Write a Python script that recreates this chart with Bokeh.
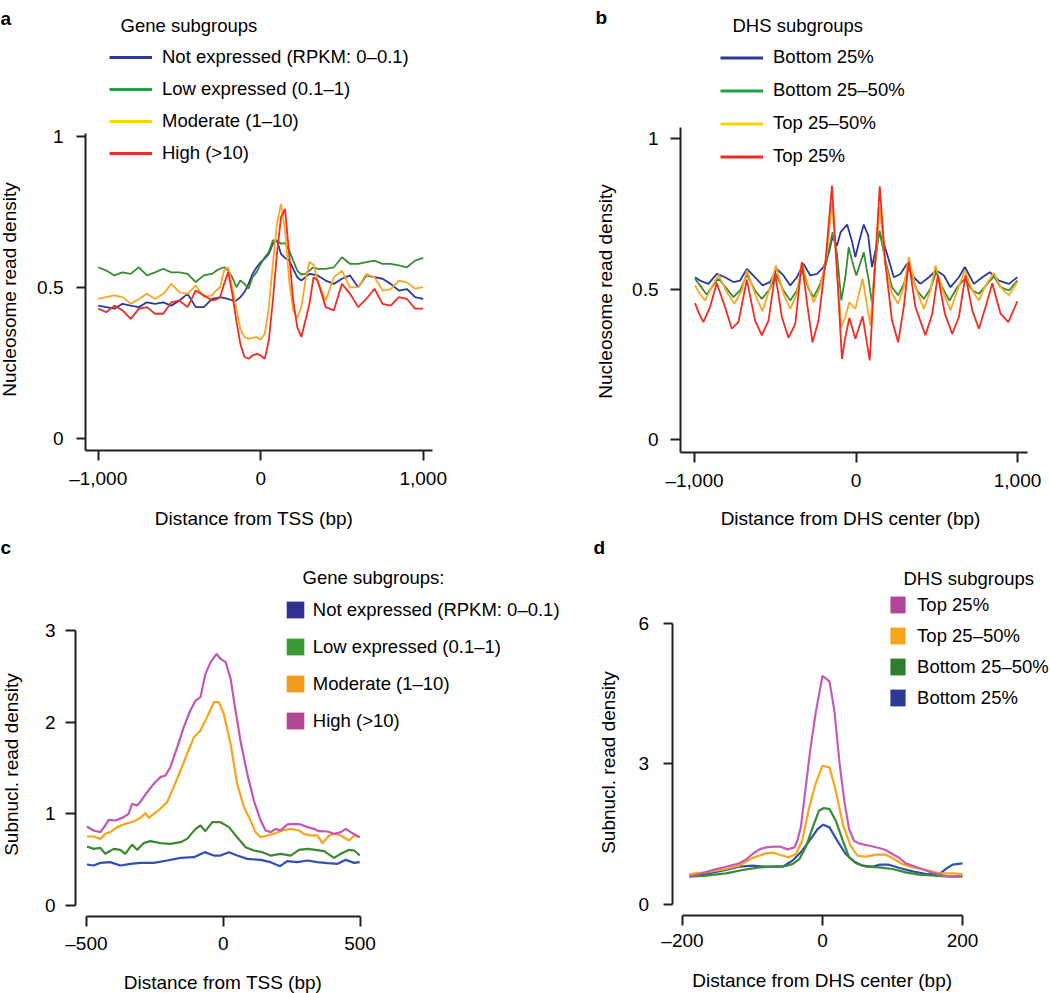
import math
from bokeh.plotting import figure
from bokeh.models import Range1d, FixedTicker, Legend, LegendItem, Label
from bokeh.layouts import row, column
from bokeh.embed import file_html
from bokeh.resources import INLINE

# ---------------- data ----------------
# Panel a: nucleosome read density around TSS by expression subgroup
a_x = [-1000, -950, -900, -850, -800, -750, -700, -650, -600, -550, -500, -450, -400, -350, -300,
       -275, -250, -225, -200, -175, -150, -125, -100, -75, -50, -25, 0, 25, 50, 75, 100, 125, 150,
       175, 200, 225, 250, 275, 300, 325, 350,
       400, 450, 500, 550, 600, 650, 700, 750, 800, 850, 900, 950, 1000]
a_not = [0.44, 0.435, 0.43, 0.446, 0.44, 0.435, 0.451, 0.446, 0.451, 0.44, 0.457, 0.479, 0.435, 0.435, 0.462,
         0.465, 0.468, 0.465, 0.462, 0.457, 0.457, 0.468, 0.485, 0.512, 0.545, 0.567, 0.584, 0.596, 0.611,
         0.645, 0.656, 0.611, 0.598, 0.589, 0.562, 0.534, 0.523, 0.534, 0.545, 0.543, 0.54,
         0.523, 0.512, 0.529, 0.54, 0.501, 0.54, 0.534, 0.529, 0.512, 0.49, 0.495, 0.468, 0.462]
a_low = [0.567, 0.556, 0.54, 0.55, 0.545, 0.567, 0.54, 0.55, 0.562, 0.55, 0.55, 0.545, 0.518, 0.54, 0.545,
         0.555, 0.562, 0.567, 0.556, 0.534, 0.501, 0.523, 0.512, 0.496, 0.534, 0.551, 0.578, 0.6, 0.617,
         0.656, 0.656, 0.645, 0.647, 0.623, 0.589, 0.556, 0.543, 0.545, 0.556, 0.567, 0.562,
         0.562, 0.567, 0.6, 0.578, 0.578, 0.584, 0.589, 0.578, 0.578, 0.573, 0.567, 0.589, 0.598]
a_mod = [0.462, 0.468, 0.474, 0.468, 0.446, 0.462, 0.479, 0.462, 0.479, 0.512, 0.485, 0.479, 0.507, 0.468, 0.474,
         0.49, 0.501, 0.556, 0.567, 0.501, 0.43, 0.363, 0.336, 0.33, 0.333, 0.336, 0.327, 0.347, 0.435,
         0.578, 0.711, 0.777, 0.689, 0.523, 0.424, 0.4, 0.435, 0.523, 0.585, 0.575, 0.523,
         0.457, 0.534, 0.556, 0.5, 0.501, 0.545, 0.534, 0.49, 0.495, 0.523, 0.517, 0.496, 0.501]
a_high = [0.43, 0.418, 0.44, 0.424, 0.396, 0.43, 0.435, 0.413, 0.413, 0.451, 0.457, 0.435, 0.49, 0.474, 0.457,
          0.46, 0.468, 0.512, 0.551, 0.479, 0.39, 0.313, 0.27, 0.264, 0.275, 0.28, 0.275, 0.264, 0.325,
          0.457, 0.611, 0.733, 0.76, 0.611, 0.457, 0.369, 0.336, 0.39, 0.446, 0.534, 0.523,
          0.435, 0.424, 0.512, 0.479, 0.435, 0.462, 0.496, 0.446, 0.44, 0.468, 0.462, 0.43, 0.43]

# Panel b: nucleosome read density around DHS centers by DHS subgroup
b_bot_x = [-997, -966, -914, -862, -811, -759, -718, -676, -625, -579, -532, -490, -449, -407, -366, -325, -283,
           -242, -201, -170, -145, -118, -95, -55, -25, -4, 20, 48, 75, 99, 125, 145, 170, 192, 234, 275, 316,
           358, 399, 451, 496, 544, 585, 637, 674, 730, 782, 829, 885, 947, 999]
b_bot_y = [0.54, 0.529, 0.518, 0.551, 0.54, 0.524, 0.529, 0.568, 0.54, 0.513, 0.524, 0.568, 0.546, 0.513, 0.54,
           0.585, 0.546, 0.551, 0.574, 0.618, 0.675, 0.645, 0.69, 0.715, 0.66, 0.607, 0.66, 0.715, 0.68, 0.574,
           0.64, 0.69, 0.655, 0.618, 0.54, 0.551, 0.585, 0.54, 0.518, 0.54, 0.563, 0.546, 0.507, 0.54, 0.574,
           0.518, 0.54, 0.557, 0.529, 0.518, 0.54]
b_bm_x = [-997, -966, -925, -883, -852, -800, -759, -718, -676, -625, -583, -532, -496, -449, -407, -366, -335,
          -294, -263, -221, -180, -145, -118, -91, -66, -45, -25, 2, 48, 79, 99, 120, 145, 182, 223, 261, 296,
          327, 378, 420, 461, 496, 544, 579, 627, 674, 720, 761, 813, 854, 895, 947, 999]
b_bm_y = [0.535, 0.513, 0.483, 0.513, 0.535, 0.502, 0.474, 0.496, 0.549, 0.496, 0.468, 0.502, 0.551, 0.496,
          0.463, 0.496, 0.565, 0.502, 0.474, 0.518, 0.596, 0.69, 0.618, 0.463, 0.54, 0.64, 0.596, 0.546, 0.623,
          0.529, 0.452, 0.596, 0.695, 0.596, 0.507, 0.48, 0.518, 0.574, 0.496, 0.468, 0.502, 0.557, 0.496, 0.463,
          0.507, 0.535, 0.496, 0.485, 0.518, 0.543, 0.507, 0.496, 0.529]
b_tm_x = [-997, -966, -935, -893, -852, -800, -753, -707, -676, -625, -579, -532, -496, -449, -407, -366, -335,
          -294, -263, -221, -180, -149, -118, -91, -66, -41, -4, 41, 89, 116, 147, 182, 223, 261, 296, 327, 368,
          420, 461, 492, 544, 585, 627, 674, 720, 761, 802, 854, 895, 947, 999]
b_tm_y = [0.513, 0.485, 0.463, 0.507, 0.549, 0.491, 0.452, 0.496, 0.563, 0.485, 0.427, 0.507, 0.579, 0.485,
          0.435, 0.485, 0.59, 0.507, 0.457, 0.507, 0.618, 0.79, 0.563, 0.374, 0.408, 0.457, 0.435, 0.535, 0.38,
          0.563, 0.773, 0.585, 0.485, 0.452, 0.507, 0.607, 0.507, 0.435, 0.496, 0.579, 0.485, 0.43, 0.496, 0.563,
          0.496, 0.463, 0.513, 0.554, 0.507, 0.48, 0.524]
b_top_x = [-997, -976, -945, -904, -862, -811, -769, -728, -676, -625, -583, -542, -500, -459, -418, -376, -335,
           -304, -269, -232, -190, -149, -118, -87, -66, -41, -4, 41, 85, 116, 147, 182, 223, 261, 296, 327, 368,
           430, 472, 507, 550, 596, 637, 678, 720, 761, 802, 844, 895, 943, 999]
b_top_y = [0.454, 0.424, 0.391, 0.441, 0.52, 0.441, 0.369, 0.391, 0.532, 0.396, 0.347, 0.396, 0.551, 0.408,
           0.339, 0.385, 0.59, 0.457, 0.324, 0.396, 0.585, 0.845, 0.563, 0.269, 0.341, 0.405, 0.336, 0.41, 0.264,
           0.563, 0.842, 0.585, 0.396, 0.324, 0.441, 0.59, 0.441, 0.347, 0.419, 0.546, 0.419, 0.352, 0.408, 0.546,
           0.43, 0.369, 0.441, 0.52, 0.419, 0.391, 0.46]

# Panel c: subnucleosomal read density around TSS
c_not_x = [-498, -474, -449, -413, -376, -339, -303, -254, -205, -156, -107, -68, -34, -10, 21, 51, 88, 137, 173,
           208, 234, 271, 308, 344, 381, 418, 448, 479, 499]
c_not_y = [0.447, 0.436, 0.465, 0.473, 0.436, 0.455, 0.465, 0.465, 0.491, 0.52, 0.527, 0.582, 0.545, 0.545, 0.582,
           0.545, 0.509, 0.498, 0.473, 0.429, 0.484, 0.473, 0.491, 0.473, 0.462, 0.455, 0.498, 0.465, 0.473]
c_low_x = [-498, -474, -449, -431, -400, -376, -358, -333, -315, -291, -266, -230, -193, -156, -132, -101, -83, -65,
           -40, -10, 21, 51, 82, 112, 143, 173, 210, 247, 277, 308, 338, 369, 405, 430, 460, 479, 499]
c_low_y = [0.644, 0.618, 0.629, 0.564, 0.618, 0.607, 0.564, 0.665, 0.607, 0.68, 0.702, 0.68, 0.673, 0.691, 0.727,
           0.836, 0.873, 0.811, 0.909, 0.909, 0.855, 0.745, 0.636, 0.6, 0.582, 0.545, 0.564, 0.545, 0.607, 0.618,
           0.607, 0.593, 0.52, 0.564, 0.607, 0.6, 0.545]
c_mod_x = [-498, -474, -449, -431, -413, -388, -358, -327, -303, -284, -272, -254, -230, -205, -181, -156, -132,
           -107, -83, -59, -34, -16, 2, 27, 51, 76, 100, 118, 137, 161, 186, 216, 247, 277, 295, 320, 344, 363,
           387, 405, 430, 460, 479, 499]
c_mod_y = [0.753, 0.753, 0.727, 0.782, 0.8, 0.855, 0.891, 0.916, 0.956, 1.007, 0.956, 1.0, 1.055, 1.127, 1.291,
           1.473, 1.655, 1.836, 1.909, 2.055, 2.218, 2.218, 2.091, 1.764, 1.327, 1.073, 0.927, 0.8, 0.745, 0.764,
           0.782, 0.818, 0.836, 0.818, 0.782, 0.764, 0.764, 0.68, 0.764, 0.782, 0.764, 0.709, 0.764, 0.745]
c_high_x = [-498, -474, -449, -431, -419, -394, -364, -346, -333, -315, -303, -278, -254, -230, -211, -193, -168,
            -144, -120, -101, -83, -65, -46, -24, -10, 9, 27, 45, 63, 88, 112, 137, 155, 173, 192, 210, 234, 259,
            283, 308, 332, 350, 381, 405, 430, 448, 466, 499]
c_high_y = [0.862, 0.818, 0.8, 0.873, 0.935, 0.927, 0.964, 1.0, 1.11, 1.09, 1.13, 1.236, 1.327, 1.4, 1.418, 1.51,
            1.727, 1.945, 2.127, 2.236, 2.273, 2.527, 2.655, 2.745, 2.69, 2.655, 2.473, 2.127, 1.8, 1.436, 1.145,
            0.927, 0.818, 0.8, 0.836, 0.818, 0.884, 0.891, 0.884, 0.855, 0.836, 0.811, 0.807, 0.782, 0.8, 0.836,
            0.8, 0.745]

# Panel d: subnucleosomal read density around DHS centers
d_top_x = [-190, -176, -157, -138, -119, -110, -100, -90, -81, -69, -60, -50, -40, -36, -31, -24, -17, -10, 0, 10,
           17, 24, 31, 38, 45, 52, 67, 81, 90, 100, 110, 119, 138, 157, 176, 200]
d_top_y = [0.584, 0.641, 0.727, 0.798, 0.87, 0.941, 1.069, 1.169, 1.212, 1.226, 1.226, 1.169, 1.212, 1.354, 1.639,
           2.495, 3.35, 4.063, 4.882, 4.761, 4.134, 3.065, 2.21, 1.604, 1.354, 1.297, 1.247, 1.197, 1.155, 1.069,
           0.984, 0.87, 0.77, 0.67, 0.599, 0.599]
d_tm_x = [-190, -167, -138, -119, -100, -81, -71, -60, -48, -38, -29, -19, -10, 0, 10, 19, 29, 40, 50, 62, 76, 90,
          100, 114, 129, 148, 167, 186, 200]
d_tm_y = [0.641, 0.677, 0.748, 0.82, 0.984, 1.083, 1.098, 1.048, 0.998, 1.069, 1.354, 2.067, 2.566, 2.958, 2.922,
          2.423, 1.711, 1.247, 1.033, 1.012, 1.055, 1.055, 0.984, 0.855, 0.784, 0.727, 0.656, 0.656, 0.641]
d_bm_x = [-190, -167, -138, -114, -90, -71, -52, -43, -33, -24, -14, -5, 2, 10, 19, 29, 38, 48, 62, 81, 100, 119,
          138, 162, 181, 200]
d_bm_y = [0.584, 0.606, 0.656, 0.727, 0.784, 0.798, 0.813, 0.855, 0.962, 1.212, 1.639, 1.996, 2.053, 2.031, 1.782,
          1.354, 0.998, 0.87, 0.798, 0.784, 0.748, 0.677, 0.627, 0.606, 0.584, 0.584]
d_bot_x = [-190, -167, -138, -119, -100, -81, -57, -43, -29, -17, -7, 1, 10, 21, 33, 45, 57, 71, 81, 95, 110, 129,
           148, 167, 176, 186, 200]
d_bot_y = [0.606, 0.641, 0.727, 0.798, 0.82, 0.798, 0.798, 0.927, 1.14, 1.39, 1.604, 1.696, 1.639, 1.354, 1.069,
           0.912, 0.82, 0.798, 0.841, 0.841, 0.77, 0.698, 0.641, 0.641, 0.748, 0.841, 0.87]

gene_labels = ["Not expressed (RPKM: 0\u20130.1)", "Low expressed (0.1\u20131)", "Moderate (1\u201310)", "High (>10)"]
dhs_labels_b = ["Bottom 25%", "Bottom 25\u201350%", "Top 25\u201350%", "Top 25%"]
dhs_labels_d = ["Top 25%", "Top 25\u201350%", "Bottom 25\u201350%", "Bottom 25%"]

# ---------------- styling / layout helpers ----------------
FONT = "Liberation Sans"
AX = "#231f20"
TICK_FS = "19px"
LAB_FS = "19px"
LEG_FS = "18.5px"
LET_FS = "19px"
NAN = float("nan")


class Panel:
    """A figure whose frame fills its whole canvas; xcal/ycal map two data values to canvas pixels."""

    def __init__(self, box, xcal, ycal):
        self.l, self.t, self.r, self.b = box
        (xv0, xp0), (xv1, xp1) = xcal
        (yv0, yp0), (yv1, yp1) = ycal
        self.kx = (xv1 - xv0) / (xp1 - xp0)
        self.x0 = (xv0, xp0)
        self.ky = (yv1 - yv0) / (yp1 - yp0)
        self.y0 = (yv0, yp0)
        self.p = figure(width=self.r - self.l, height=self.b - self.t,
                        x_range=Range1d(self.xv(self.l), self.xv(self.r)),
                        y_range=Range1d(self.yv(self.b), self.yv(self.t)),
                        min_border=0, min_border_left=0, min_border_right=0,
                        min_border_top=0, min_border_bottom=0,
                        output_backend="svg", toolbar_location=None)
        p = self.p
        p.xgrid.visible = False
        p.ygrid.visible = False
        p.outline_line_color = None
        p.background_fill_color = "white"
        p.border_fill_color = "white"

    def xv(self, px):
        v0, p0 = self.x0
        return v0 + (px - p0) * self.kx

    def yv(self, py):
        v0, p0 = self.y0
        return v0 + (py - p0) * self.ky

    def axis(self, ax, ticks, labels, loc, bounds, tick_out, standoff):
        ax.ticker = FixedTicker(ticks=ticks)
        ax.major_label_overrides = dict(zip(ticks, labels))
        ax.fixed_location = loc
        ax.bounds = bounds
        ax.axis_line_color = AX
        ax.axis_line_width = 2
        ax.major_tick_line_color = AX
        ax.major_tick_line_width = 2
        ax.minor_tick_line_color = None
        ax.major_tick_in = 0
        ax.major_tick_out = tick_out
        ax.major_label_standoff = standoff
        ax.major_label_text_font = FONT
        ax.major_label_text_font_size = TICK_FS
        ax.major_label_text_color = "black"

    def text(self, px, py, text, size, bold=False, align="left", baseline="middle", angle=0.0):
        self.p.add_layout(Label(x=px - self.l, y=self.b - py, x_units="screen", y_units="screen",
                                text=text, text_font=FONT, text_font_size=size,
                                text_font_style="bold" if bold else "normal",
                                text_align=align, text_baseline=baseline, angle=angle,
                                text_color="black"))

    def legend(self, labels, colors, kind, left, bottom, gw, gh, spacing, standoff):
        items = []
        for lab, col in zip(labels, colors):
            # legend-only renderers (one NaN point, so nothing is drawn in the plot area)
            if kind == "line":
                r = self.p.line(x=[NAN], y=[NAN], line_color=col, line_width=3)
            else:
                r = self.p.quad(left=[NAN], right=[NAN], top=[NAN], bottom=[NAN],
                                fill_color=col, line_color=None)
            items.append(LegendItem(label=lab, renderers=[r]))
        leg = Legend(items=items, location=(left - self.l, self.b - bottom), orientation="vertical",
                     glyph_width=gw, glyph_height=gh, label_height=gh, label_width=10,
                     spacing=spacing, label_standoff=standoff, padding=0, margin=0,
                     border_line_color=None, background_fill_alpha=0,
                     label_text_font=FONT, label_text_font_size=LEG_FS, label_text_color="black")
        self.p.add_layout(leg)


ROT = math.pi / 2

# ---------------- panel a ----------------
A = Panel((0, 0, 592, 530), ((-1000, 97.7), (1000, 422.7)), ((0, 438), (1, 136)))
A.axis(A.p.xaxis[0], [-1000, 0, 1000], ["\u20131,000", "0", "1,000"], A.yv(450),
       (A.xv(85), A.xv(432)), 10, 7)
A.axis(A.p.yaxis[0], [0, 0.5, 1], ["0", "0.5", "1"], A.xv(85), (A.yv(450), A.yv(133)), 9, 13)
for ys, col in zip([a_not, a_low, a_mod, a_high], ["#2b3a9c", "#3b8a34", "#fba624", "#ee2e24"]):
    A.p.line(a_x, ys, line_color=col, line_width=1.8)
A.legend(gene_labels, ["#2b3a8f", "#1fa244", "#ffd200", "#ee2b24"], "line", 109, 166, 43, 26, 6, 10)
A.text(120, 25, "Gene subgroups", LEG_FS)
A.text(253.5, 517.5, "Distance from TSS (bp)", LAB_FS, align="center")
A.text(9, 289, "Nucleosome read density", LAB_FS, align="center", angle=ROT)
A.text(0, 18, "a", LET_FS, bold=True, baseline="alphabetic")

# ---------------- panel b ----------------
B = Panel((592, 0, 1050, 530), ((-1000, 694), (1000, 1017)), ((0, 439.3), (1, 138.3)))
B.axis(B.p.xaxis[0], [-1000, 0, 1000], ["\u20131,000", "0", "1,000"], B.yv(452),
       (B.xv(680), B.xv(1027)), 10, 7)
B.axis(B.p.yaxis[0], [0, 0.5, 1], ["0", "0.5", "1"], B.xv(680), (B.yv(452), B.yv(126.5)), 10, 12)
for xs, ys, col in zip([b_bot_x, b_bm_x, b_tm_x, b_top_x], [b_bot_y, b_bm_y, b_tm_y, b_top_y],
                       ["#2b3a9c", "#3b8a34", "#fba624", "#ee2e24"]):
    B.p.line(xs, ys, line_color=col, line_width=1.8)
B.legend(dhs_labels_b, ["#2b3a8f", "#1fa244", "#ffd200", "#ee2b24"], "line", 720, 169.5, 43, 27, 6, 10)
B.text(732, 25, "DHS subgroups", LEG_FS)
B.text(850, 517.5, "Distance from DHS center (bp)", LAB_FS, align="center")
B.text(604.5, 291, "Nucleosome read density", LAB_FS, align="center", angle=ROT)
B.text(595, 17, "b", LET_FS, bold=True, baseline="alphabetic")

# ---------------- panel c ----------------
C = Panel((0, 530, 592, 993), ((-500, 85.9), (500, 359.5)), ((0, 905), (3, 630)))
C.axis(C.p.xaxis[0], [-500, 0, 500], ["\u2013500", "0", "500"], C.yv(916), (-500, 500), 10, 6)
C.axis(C.p.yaxis[0], [0, 1, 2, 3], ["0", "1", "2", "3"], C.xv(75), (0, 3), 10, 10)
for xs, ys, col in zip([c_not_x, c_low_x, c_mod_x, c_high_x], [c_not_y, c_low_y, c_mod_y, c_high_y],
                       ["#2f50b5", "#3b8a2e", "#fba31a", "#c257b2"]):
    C.p.line(xs, ys, line_color=col, line_width=2.2)
C.legend(gene_labels, ["#2e3092", "#3a9b35", "#f39b1c", "#b34598"], "quad", 283.8, 731.5, 22, 21, 15, 7)
C.text(302, 577, "Gene subgroups:", LEG_FS)
C.text(222.5, 982, "Distance from TSS (bp)", LAB_FS, align="center")
C.text(11, 764, "Subnucl. read density", LAB_FS, align="center", angle=ROT)
C.text(0, 547, "c", LET_FS, bold=True, baseline="alphabetic")

# ---------------- panel d ----------------
D = Panel((592, 530, 1050, 993), ((-200, 682), (200, 962)), ((0, 903.5), (6, 623)))
D.axis(D.p.xaxis[0], [-200, 0, 200], ["\u2013200", "0", "200"], D.yv(915), (-200, 200), 10, 4)
D.axis(D.p.yaxis[0], [0, 3, 6], ["0", "3", "6"], D.xv(671.5), (0, 6), 9, 14)
for xs, ys, col in zip([d_bot_x, d_bm_x, d_tm_x, d_top_x], [d_bot_y, d_bm_y, d_tm_y, d_top_y],
                       ["#2d50b3", "#3a8a33", "#fba51a", "#c45cb5"]):
    D.p.line(xs, ys, line_color=col, line_width=2.2)
D.legend(dhs_labels_d, ["#b34598", "#fba31a", "#2f7d32", "#2c3a96"], "quad", 888.1, 708.5, 19, 21, 9, 10)
D.text(903, 578, "DHS subgroups", LEG_FS)
D.text(821.7, 980, "Distance from DHS center (bp)", LAB_FS, align="center")
D.text(608, 762, "Subnucl. read density", LAB_FS, align="center", angle=ROT)
D.text(593, 547, "d", LET_FS, bold=True, baseline="alphabetic")

layout = column(row(A.p, B.p), row(C.p, D.p))
open("out.html", "w").write(file_html(layout, INLINE))
